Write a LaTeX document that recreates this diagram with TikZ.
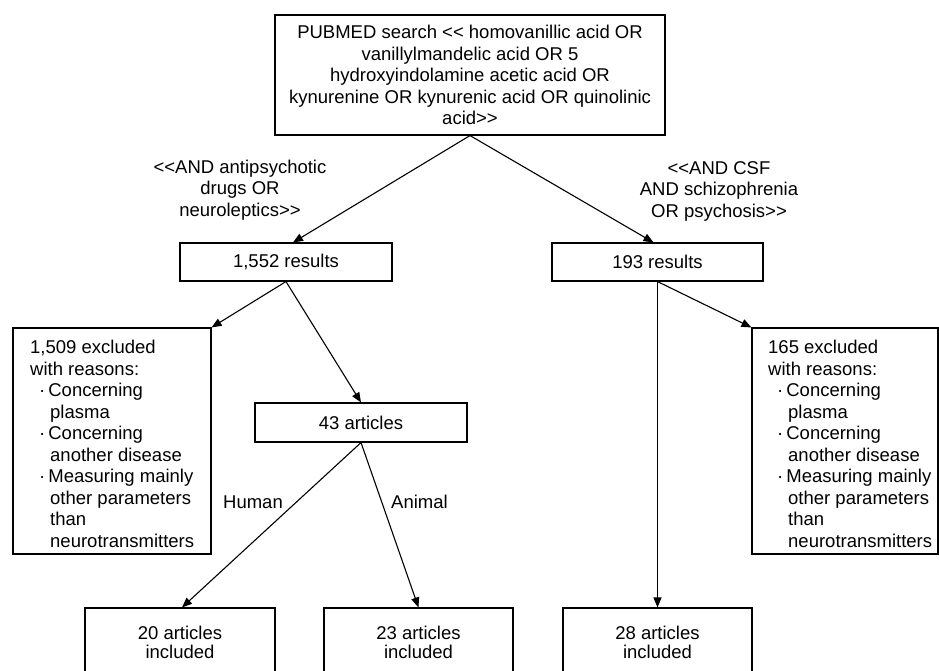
\documentclass[tikz,border=0pt]{standalone}
\usepackage{fontspec}
\setmainfont{Liberation Sans}
\usetikzlibrary{arrows.meta,calc}
\begin{document}
\begin{tikzpicture}[x=1pt,y=-1pt,
  font=\fontsize{18.5}{21.5}\selectfont,
  box/.style={draw=black,line width=1.1pt,rectangle,inner sep=0pt,fill=white},
  conn/.style={line width=1.1pt,draw=black},
  arr/.style={conn,-{Triangle[length=10pt,width=8pt]}},
  lbl/.style={align=center,inner sep=0pt},
]
\useasboundingbox (0,0) rectangle (939,670);
\fill[white] (0,0) rectangle (939,670);

% boxes
\node[box,minimum width=390pt,minimum height=120pt,align=center] (top) at (470,75)
 {PUBMED search {<}{<} homovanillic acid OR\\
  vanillylmandelic acid OR 5\\
  hydroxyindolamine acetic acid OR\\
  kynurenine OR kynurenic acid OR quinolinic\\
  acid{>}{>}};
\node[box,minimum width=212pt,minimum height=38pt] (r1552) at (286,262) {1,552 results};
\node[box,minimum width=211pt,minimum height=38pt] (r193) at (657.5,262) {193 results};

\node[box,minimum width=198pt,minimum height=226pt] (lex) at (112,441) {};
\node[align=left,anchor=west,inner sep=0pt] (lextxt) at (30,444)
 {1,509 excluded\\
  with reasons:\\
  \hspace*{9pt}·\hspace{3pt}Concerning\\
  \hspace*{20pt}plasma\\
  \hspace*{9pt}·\hspace{3pt}Concerning\\
  \hspace*{20pt}another disease\\
  \hspace*{9pt}·\hspace{3pt}Measuring mainly\\
  \hspace*{20pt}other parameters\\
  \hspace*{20pt}than\\
  \hspace*{20pt}neurotransmitters};

\node[box,minimum width=186pt,minimum height=226pt] (rex) at (845,441) {};
\node[align=left,anchor=west,inner sep=0pt] (rextxt) at (768,444)
 {165 excluded\\
  with reasons:\\
  \hspace*{9pt}·\hspace{3pt}Concerning\\
  \hspace*{20pt}plasma\\
  \hspace*{9pt}·\hspace{3pt}Concerning\\
  \hspace*{20pt}another disease\\
  \hspace*{9pt}·\hspace{3pt}Measuring mainly\\
  \hspace*{20pt}other parameters\\
  \hspace*{20pt}than\\
  \hspace*{20pt}neurotransmitters};

\node[box,minimum width=212pt,minimum height=39pt] (a43) at (361,422.5) {43 articles};

\node[box,minimum width=190pt,minimum height=69pt,align=center] (a20) at (180,642.5) {20 articles\\[-2pt]included};
\node[box,minimum width=189pt,minimum height=69pt,align=center] (a23) at (418.5,642.5) {23 articles\\[-2pt]included};
\node[box,minimum width=189pt,minimum height=69pt,align=center] (a28) at (657.5,642.5) {28 articles\\[-2pt]included};

% labels
\node[lbl] (qleft) at (240,190) {{<}{<}AND antipsychotic\\drugs OR\\neuroleptics{>}{>}};
\node[lbl] (qright) at (719,191) {{<}{<}AND CSF\\AND schizophrenia\\OR psychosis{>}{>}};
\node[lbl,anchor=east] (human) at (283,502) {Human};
\node[lbl,anchor=west] (animal) at (391,502) {Animal};

% connectors
\draw[arr] (top.south) -- ([xshift=7pt]r1552.north);
\draw[arr] (top.south) -- ([xshift=-4pt]r193.north);
\draw[arr] (r1552.south) -- (lex.north east);
\draw[arr] (r1552.south) -- (a43.north);
\draw[arr] (r193.south) -- (rex.north west);
\draw[arr] (r193.south) -- (a28.north);
\draw[arr] (a43.south) -- ([xshift=2pt]a20.north);
\draw[arr] (a43.south) -- (a23.north);
\end{tikzpicture}
\end{document}
